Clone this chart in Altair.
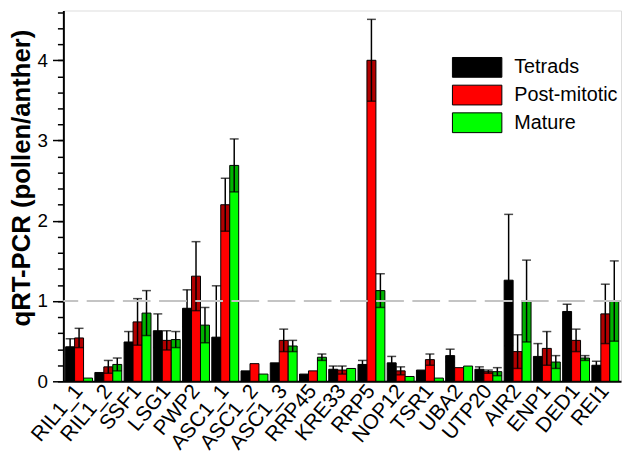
import altair as alt
import pandas as pd

genes = ["RIL1_1", "RIL1_2", "SSF1", "LSG1", "PWP2", "ASC1_1", "ASC1_2", "ASC1_3",
         "RRP45", "KRE33", "RRP5", "NOP12", "TSR1", "UBA2", "UTP20", "AIR2",
         "ENP1", "DED1", "REI1"]
stages = ["Tetrads", "Post-mitotic", "Mature"]
colors = ["#000000", "#ff0000", "#00ff00"]

tetrads_mean = [0.43, 0.11, 0.49, 0.63, 0.91, 0.55, 0.13, 0.23, 0.09, 0.15,
                0.21, 0.23, 0.14, 0.32, 0.15, 1.26, 0.31, 0.87, 0.20]
tetrads_err = [0.10, 0.00, 0.13, 0.21, 0.23, 0.64, 0.00, 0.00, 0.00, 0.04,
               0.05, 0.08, 0.00, 0.08, 0.03, 0.82, 0.16, 0.09, 0.05]
post_mean = [0.54, 0.18, 0.74, 0.51, 1.31, 2.20, 0.22, 0.51, 0.13, 0.14,
             4.00, 0.13, 0.27, 0.17, 0.12, 0.37, 0.41, 0.51, 0.84]
post_err = [0.12, 0.08, 0.29, 0.12, 0.43, 0.33, 0.00, 0.14, 0.00, 0.05,
            0.51, 0.05, 0.07, 0.00, 0.02, 0.21, 0.21, 0.14, 0.37]
mature_mean = [0.04, 0.21, 0.85, 0.52, 0.70, 2.69, 0.09, 0.44, 0.30, 0.16,
               1.13, 0.06, 0.04, 0.19, 0.12, 1.00, 0.24, 0.29, 1.00]
mature_err = [0.00, 0.08, 0.28, 0.10, 0.22, 0.33, 0.00, 0.07, 0.04, 0.00,
              0.21, 0.00, 0.00, 0.00, 0.05, 0.51, 0.08, 0.03, 0.50]

major_ticks = [0, 1, 2, 3, 4]
minor_ticks = [0, 0.2, 0.4, 0.6, 0.8, 1, 1.2, 1.4, 1.6, 1.8, 2, 2.2, 2.4, 2.6,
               2.8, 3, 3.2, 3.4, 3.6, 3.8, 4, 4.2, 4.4, 4.6]
reference_level = [1]

rows = []
for s, means, errs in zip(stages, [tetrads_mean, post_mean, mature_mean],
                          [tetrads_err, post_err, mature_err]):
    for g, m, e in zip(genes, means, errs):
        rows.append(dict(gene=g, stage=s, mean=m, err=e,
                         low=max(m - e, 0), high=m + e))
df = pd.DataFrame(rows)
df_err = df[df["err"] > 0]
df_low = df_err[df_err["mean"] - df_err["err"] > 0]

FONT = "Liberation Sans"
yscale = alt.Scale(domain=[0, 4.62], nice=False, zero=True)

x_enc = alt.X("gene:N", sort=genes, title=None,
              scale=alt.Scale(paddingInner=0.08, paddingOuter=0.077),
              axis=alt.Axis(labelAngle=-50, labelAlign="right", labelBaseline="middle",
                            labelFontSize=21, labelPadding=6, ticks=False,
                            domainWidth=2, domainColor="black", labelColor="black",
                            labelFont=FONT))
xo_enc = alt.XOffset("stage:N", sort=stages,
                     scale=alt.Scale(domain=stages, paddingInner=0, paddingOuter=0))

bars = alt.Chart(df).mark_bar(stroke="black", strokeWidth=1).encode(
    x=x_enc,
    xOffset=xo_enc,
    y=alt.Y("mean:Q", scale=yscale, title="qRT-PCR (pollen/anther)",
            axis=alt.Axis(values=major_ticks, orient="left", tickSize=11, tickWidth=1.5,
                          tickColor="black", labelPadding=5, labelFontSize=19,
                          labelColor="black", labelFont=FONT, domainWidth=2,
                          domainColor="black", grid=False, titleFontSize=26,
                          titleFont=FONT, titleFontWeight="bold", titleColor="black",
                          titlePadding=3, titleY=169)),
    color=alt.Color("stage:N", sort=stages,
                    scale=alt.Scale(domain=stages, range=colors),
                    legend=alt.Legend(title=None, orient="none", legendX=393, legendY=47,
                                      symbolType="M-1,-1H4V1H-1Z", symbolSize=400,
                                      symbolStrokeColor="black", symbolStrokeWidth=1,
                                      symbolOpacity=1, labelFontSize=20, labelFont=FONT,
                                      labelColor="black", labelOffset=42, rowPadding=3)),
)

shade = alt.Chart(df_err).mark_bar(color="black", opacity=0.3).encode(
    x=x_enc, xOffset=xo_enc,
    y=alt.Y("low:Q", scale=yscale, axis=None), y2="mean:Q",
)

err_rule = alt.Chart(df_err).mark_rule(color="black", strokeWidth=1.5).encode(
    x=x_enc, xOffset=xo_enc,
    y=alt.Y("low:Q", scale=yscale, axis=None), y2="high:Q",
)

cap_hi = alt.Chart(df_err).mark_tick(color="black", thickness=1.5, size=9).encode(
    x=x_enc, xOffset=xo_enc,
    y=alt.Y("high:Q", scale=yscale, axis=None),
)

cap_lo = alt.Chart(df_low).mark_tick(color="black", thickness=1.5, size=9).encode(
    x=x_enc, xOffset=xo_enc,
    y=alt.Y("low:Q", scale=yscale, axis=None),
)

ref = alt.Chart(pd.DataFrame({"level": reference_level})).mark_rule(
    color="#c4c4c4", strokeWidth=2, strokeDash=[28, 8.6]
).encode(
    y=alt.Y("level:Q", scale=yscale, title=None,
            axis=alt.Axis(values=minor_ticks, orient="left", labels=False, tickSize=6,
                          tickWidth=1.5, tickColor="black", domain=False, grid=False,
                          title=None))
)

chart = alt.layer(bars, shade, err_rule, cap_hi, cap_lo, ref).resolve_axis(
    y="independent"
).properties(
    width=621, height=448,
    autosize=alt.AutoSizeParams(type="fit", contains="padding"),
    padding={"left": 0, "top": 0, "right": 0, "bottom": 0},
).configure_view(stroke=None).configure(background="white")

chart.save("out.html", embed_options={"renderer": "svg", "actions": False})
